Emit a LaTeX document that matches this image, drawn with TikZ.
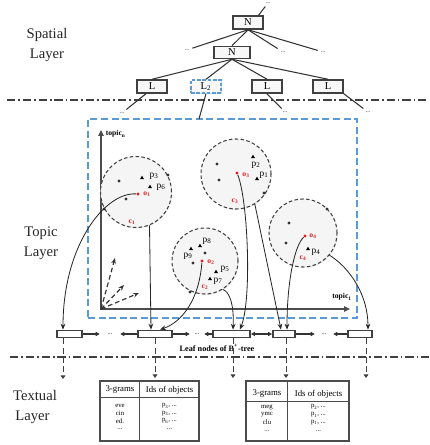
\documentclass[tikz,border=0pt]{standalone}
\usepackage{fontspec}
\setmainfont{Liberation Serif}
\usetikzlibrary{arrows.meta,shapes.geometric,calc,shadows}
\definecolor{areablue}{RGB}{91,155,213}
\definecolor{objred}{RGB}{222,30,30}
\newcommand{\psub}[1]{p\textsubscript{#1}}

\begin{document}
\begin{tikzpicture}[x=0.3mm,y=-0.3mm,
  layerlab/.style={align=center, text=black!85, font=\fontsize{12.5}{17}\selectfont},
  layerline/.style={draw=black!75, line width=0.9pt, dash pattern=on 7pt off 2.5pt on 1.5pt off 2.5pt},
  treebox/.style={draw=black!75, line width=1.3pt, fill=black!3, inner sep=0pt,
    minimum width=9mm, minimum height=3.9mm, font=\fontsize{9}{9}\selectfont,
    drop shadow={shadow xshift=0.7pt, shadow yshift=-0.7pt, opacity=0.3}},
  treeline/.style={draw=black!80, line width=0.9pt},
  dotsnode/.style={inner sep=2.5pt, font=\fontsize{5}{5}\selectfont},
  tareabox/.style={draw=areablue, line width=0.9pt, dash pattern=on 6pt off 3pt, inner sep=0pt},
  axisline/.style={draw=black!70, line width=1.4pt, -{Triangle[length=5pt,width=4.5pt]}},
  vecarr/.style={draw=black!80, line width=1pt, dash pattern=on 4pt off 2.5pt, -{Stealth[length=5pt,width=4pt]}},
  axislab/.style={inner sep=0.5pt, font=\fontsize{6.5}{6.5}\selectfont\bfseries},
  cluster/.style={circle, draw=black!75, dash pattern=on 3pt off 2pt, line width=0.9pt,
    fill=black!4, inner sep=0pt,
    drop shadow={shadow xshift=0.6pt, shadow yshift=-0.6pt, opacity=0.2}},
  obj/.style={circle, fill=black!80, inner sep=0pt, minimum size=2.6pt},
  kw/.style={regular polygon, regular polygon sides=3, fill=black, inner sep=0pt, minimum size=4pt},
  cen/.style={circle, fill=objred, inner sep=0pt, minimum size=2.8pt},
  plab/.style={inner sep=0.5pt, font=\fontsize{8}{8}\selectfont},
  rlab/.style={inner sep=0.5pt, text=objred, font=\fontsize{6.5}{6.5}\selectfont\bfseries},
  leafbox/.style={draw=black!75, line width=1.5pt, fill=white, inner sep=0pt, minimum height=2.1mm},
  leafdots/.style={inner sep=0pt, minimum height=2mm, font=\fontsize{5.5}{5.5}\selectfont},
  linkarr/.style={draw=black!80, line width=0.9pt, -{Triangle[length=3.5pt,width=3.5pt]}},
  curarr/.style={draw=black!85, line width=0.7pt, -{Stealth[length=5pt,width=4pt]}},
  downarr/.style={draw=black!75, line width=0.8pt, dash pattern=on 5pt off 3pt, -{Triangle[length=3pt,width=4pt]}},
  tabbox/.style={draw=black!70, line width=1pt, fill=white, inner sep=0pt,
    drop shadow={shadow xshift=0.7pt, shadow yshift=-0.7pt, opacity=0.25}},
  tabline/.style={draw=black!70, line width=1pt},
  tabhead/.style={inner sep=0pt, font=\fontsize{7.5}{7.5}\selectfont},
  tabcell/.style={inner sep=0pt, font=\fontsize{5.8}{5.8}\selectfont}]
\useasboundingbox (0,0) rectangle (429,445);

% layers
\node[layerlab] (spatial) at (47,45) {Spatial\\Layer};
\node[layerlab] (topic) at (41,243) {Topic\\Layer};
\node[layerlab, align=left, anchor=west] (textual) at (9,407) {Textual\\\hspace*{0.15em}Layer};
\draw[layerline] (7,100) -- (428,100);
\draw[layerline] (10,357) -- (429,357);

% spatial tree
\node[treebox] (Ntop) at (248,22.5) {N};
\node[dotsnode] (dt) at (268,3) {...};
\node[treebox, minimum width=10.8mm, minimum height=3.6mm] (Nmid) at (232,52.5) {N};
\node[dotsnode] (dn1) at (187,50) {...};
\node[dotsnode] (dn2) at (283,52) {...};
\node[dotsnode] (dn3) at (323,52) {...};
\node[treebox] (L1) at (152,86.5) {L};
\node[treebox, draw=areablue, dash pattern=on 3pt off 1.5pt, line width=1.1pt] (L2) at (206,86.5) {L\textsubscript{2}};
\node[treebox] (L3) at (267,86.5) {L};
\node[treebox] (L4) at (328,86.5) {L};
\node[dotsnode] (dl1) at (122,113) {...};
\node[dotsnode] (dl3) at (285,112) {...};
\node[dotsnode] (dl4) at (368,112) {...};
\draw[treeline] ($(Ntop.north)!0.67!(Ntop.north east)$) -- (dt);
\draw[treeline] (Ntop.south) -- (dn1);
\draw[treeline] (Ntop.south) -- (Nmid.north);
\draw[treeline] (Ntop.south) -- (dn2);
\draw[treeline] (Ntop.south) -- (dn3);
\foreach \leaf in {L1,L2,L3,L4}
  \draw[treeline] (Nmid.south) -- (\leaf.north);
\draw[treeline] (L1.-130) -- (dl1);
\draw[treeline] (L3.south) -- (dl3);
\draw[treeline] (L4.south east) -- (dl4);

% topic area
\node[tareabox, minimum width=80.7mm, minimum height=59.7mm] (tarea) at (222.5,218.5) {};
\coordinate (l2end) at (199,119);
\draw[treeline] (L2.south) -- (l2end);
\coordinate (O) at (101,309);
\coordinate (ytip) at (101,130);
\coordinate (xtip) at (350,309);
\draw[axisline] (O) -- (ytip);
\draw[axisline] ([xshift=-0.7pt]O) -- (xtip);
\node[axislab, anchor=west] (tn) at (105,134) {topic\textsubscript{n}};
\node[axislab] (t1) at (342,297) {topic\textsubscript{1}};
\coordinate (v1) at (115,258);
\coordinate (v2) at (124,285);
\coordinate (v3) at (139,293);
\foreach \v in {v1,v2,v3}
  \draw[vecarr] (O) -- (\v);

% clusters
\node[cluster, minimum size=21.3mm] (C1) at (136,192) {};
\node[cluster, minimum size=21mm] (C3) at (236,174) {};
\node[cluster, minimum size=19.8mm] (C2) at (205,261) {};
\node[cluster, minimum size=20.4mm] (C4) at (303,233) {};

\node[obj] (c1a) at (119,181) {};
\node[obj] (c1b) at (126,199) {};
\node[obj] (c1c) at (168,175) {};
\node[obj] (c1d) at (104,209) {};
\node[kw] (k3) at (142,178) {};
\node[plab] (p3) at (154,176) {\psub{3}};
\node[kw] (k6) at (150,187) {};
\node[plab] (p6) at (161,187) {\psub{6}};
\node[cen] (o1) at (138,194) {};
\node[rlab] (o1l) at (147,194) {o\textsubscript{1}};
\node[rlab] (c1l) at (132,222) {c\textsubscript{1}};

\node[obj] (c3a) at (217,164) {};
\node[obj] (c3b) at (219,180) {};
\node[obj] (c3c) at (264,193) {};
\node[kw] (k2) at (253,157) {};
\node[plab] (p2) at (256,165) {\psub{2}};
\node[kw] (k1) at (257,179) {};
\node[plab] (p1) at (264,175) {\psub{1}};
\node[cen] (o3) at (237,173) {};
\node[rlab] (o3l) at (246,175) {o\textsubscript{3}};
\node[rlab] (c3l) at (235,201) {c\textsubscript{3}};

\node[obj] (c2a) at (205,253) {};
\node[obj] (c2b) at (193,263) {};
\node[obj] (c2c) at (190,292) {};
\node[kw] (k8) at (200,246) {};
\node[plab] (p8) at (207,241) {\psub{8}};
\node[kw] (k9) at (191,249) {};
\node[plab] (p9) at (188,256) {\psub{9}};
\node[kw] (k5) at (216,272) {};
\node[plab] (p5) at (225,269) {\psub{5}};
\node[kw] (k7) at (210,279) {};
\node[plab] (p7) at (218,281) {\psub{7}};
\node[cen] (o2) at (202,261) {};
\node[rlab] (o2l) at (211,262) {o\textsubscript{2}};
\node[rlab] (c2l) at (205,287) {c\textsubscript{2}};

\node[obj] (c4a) at (289,223) {};
\node[obj] (c4b) at (286,243) {};
\node[obj] (c4c) at (327,209) {};
\node[kw] (k4) at (308,249) {};
\node[plab] (p4) at (316,252) {\psub{4}};
\node[cen] (o4) at (305,236) {};
\node[rlab] (o4l) at (313,236) {o\textsubscript{4}};
\node[rlab] (c4l) at (303,258) {c\textsubscript{4}};

% leaf nodes of the B+-tree
\node[leafbox, minimum width=7.5mm] (B1) at (69.5,334) {};
\node[leafbox, minimum width=10.2mm] (B2) at (155,334) {};
\node[leafbox, minimum width=11.1mm] (B3) at (231.5,334) {};
\node[leafbox, minimum width=6.6mm] (B4) at (284,334) {};
\node[leafbox, minimum width=7.2mm] (B5) at (360,334) {};
\node[leafdots, minimum width=6mm] (ld1) at (110,334) {...};
\node[leafdots, minimum width=4.2mm] (ld2) at (197,334) {...};
\node[leafdots, minimum width=5.4mm] (ld3) at (324,334) {...};
\node[axislab, font=\fontsize{7}{7}\selectfont\bfseries] (leaflab) at (217,348) {Leaf nodes of B\textsuperscript{+}-tree};
\draw[linkarr] (B1.east) -- (ld1.west);
\draw[linkarr] (B2.west) -- (ld1.east);
\draw[linkarr] (B2.east) -- (ld2.west);
\draw[linkarr] (B3.west) -- (ld2.east);
\draw[linkarr, {Triangle[length=3.5pt,width=3.5pt]}-{Triangle[length=3.5pt,width=3.5pt]}] (B3.east) -- (B4.west);
\draw[linkarr] (B4.east) -- (ld3.west);
\draw[linkarr] (B5.west) -- (ld3.east);

% objects to leaves
\draw[curarr] (o1) .. controls (105,192) and (63,245) .. ([xshift=-1.95mm]B1.north);
\draw[curarr] (C1.-68) -- ([xshift=-1.2mm]B2.north);
\draw[curarr] (o2) .. controls (199,300) and (182,322) .. ([xshift=1.5mm]B2.north);
\draw[curarr] (C2.-58) .. controls (230,292) and (234,305) .. ([xshift=0.45mm]B3.north);
\draw[curarr] (o3) .. controls (248,200) and (252,300) .. ([xshift=2.5mm]B3.north);
\draw[curarr] (C3.-58) -- ([xshift=-0.9mm]B4.north);
\draw[curarr] (o4) .. controls (295,245) and (287,280) .. ([xshift=0.9mm]B4.north);
\draw[curarr] (C4.-40) .. controls (350,268) and (368,295) .. ([xshift=2.4mm]B5.north);

% textual layer
\coordinate (d1) at (63,379);
\coordinate (d2) at (155,378);
\coordinate (d3) at (233,378);
\coordinate (d4) at (286,378);
\coordinate (d5) at (366,378);
\draw[downarr] (B1.south -| d1) -- (d1);
\draw[downarr] (B2.south -| d2) -- (d2);
\draw[downarr] (B3.south -| d3) -- (d3);
\draw[downarr] (B4.south -| d4) -- (d4);
\draw[downarr] (B5.south -| d5) -- (d5);

\node[tabbox, minimum width=29.7mm, minimum height=18mm] (T1) at (149.5,411) {};
\draw[tabline] ([xshift=12mm]T1.north west) -- ([xshift=12mm]T1.south west);
\draw[tabline] ([yshift=-5.1mm]T1.north west) -- ([yshift=-5.1mm]T1.north east);
\node[tabhead] (t1h1) at (120,390) {3-grams};
\node[tabhead] (t1h2) at (169.5,390) {Ids of objects};
\node[tabcell] (t1a) at (120,406) {eve};
\node[tabcell] (t1b) at (120,413.5) {cin};
\node[tabcell] (t1c) at (120,421) {ed.};
\node[tabcell] (t1d) at (120,429.5) {...};
\node[tabcell] (t1e) at (169.5,406) {\psub{3}, ...};
\node[tabcell] (t1f) at (169.5,413.5) {\psub{3}, ...};
\node[tabcell] (t1g) at (169.5,421) {\psub{6}, ...};
\node[tabcell] (t1i) at (169.5,429.5) {...};

\node[tabbox, minimum width=30.9mm, minimum height=18mm] (T2) at (297.5,411) {};
\draw[tabline] ([xshift=12.6mm]T2.north west) -- ([xshift=12.6mm]T2.south west);
\draw[tabline] ([yshift=-6.3mm]T2.north west) -- ([yshift=-6.3mm]T2.north east);
\node[tabhead] (t2h1) at (267,394) {3-grams};
\node[tabhead] (t2h2) at (318.5,394) {Ids of objects};
\node[tabcell] (t2a) at (267,407) {meg};
\node[tabcell] (t2b) at (267,415) {ymc};
\node[tabcell] (t2c) at (267,422.5) {clu};
\node[tabcell] (t2d) at (267,431) {...};
\node[tabcell] (t2e) at (318.5,407) {\psub{2}, ...};
\node[tabcell] (t2f) at (318.5,415) {\psub{1}, ...};
\node[tabcell] (t2g) at (318.5,422.5) {\psub{1}, ...};
\node[tabcell] (t2i) at (318.5,431) {...};
\end{tikzpicture}
\end{document}
